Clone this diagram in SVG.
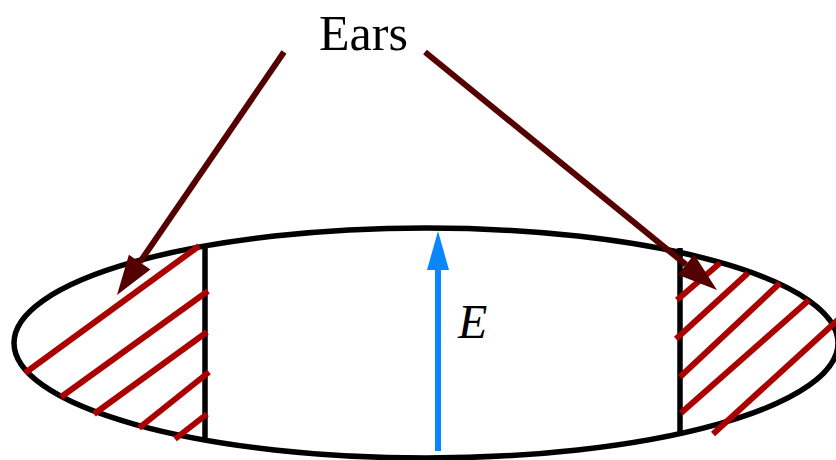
<svg xmlns="http://www.w3.org/2000/svg" width="836" height="460" viewBox="0 0 836 460">
<style>
.outline{fill:none;stroke:#000;stroke-width:5.5}
.hatch{stroke:#aa0000;stroke-width:6;fill:none}
.lead{stroke:#550000;stroke-width:6;fill:none}
.leadhead{fill:#550000}
.label{font-family:"Liberation Serif","Times New Roman",serif;fill:#000}
</style>
<rect width="836" height="460" fill="#fff"/>
<g id="body">
<ellipse class="outline" cx="426" cy="343" rx="412" ry="115"/>
</g>
<g id="left-ear">
<line class="outline" x1="205" y1="246" x2="205" y2="439"/>
<line class="hatch" x1="25" y1="373" x2="199" y2="246"/>
<line class="hatch" x1="61" y1="397" x2="208" y2="291"/>
<line class="hatch" x1="94" y1="414" x2="207" y2="332"/>
<line class="hatch" x1="139" y1="428" x2="209" y2="372"/>
<line class="hatch" x1="175" y1="439" x2="207" y2="414"/>
</g>
<g id="right-ear">
<line class="outline" x1="680" y1="248" x2="680" y2="436"/>
<line class="hatch" x1="677" y1="300" x2="720" y2="263"/>
<line class="hatch" x1="676" y1="339" x2="748" y2="273"/>
<line class="hatch" x1="680" y1="377" x2="780" y2="283"/>
<line class="hatch" x1="681" y1="413" x2="809" y2="300"/>
<line class="hatch" x1="713" y1="434" x2="840" y2="318"/>
</g>
<g id="field">
<line stroke="#0a86ff" stroke-width="6" x1="438" y1="451" x2="438" y2="266"/>
<polygon fill="#0a86ff" points="438,231 427,270 449,270"/>
<text class="label" x="458" y="338" font-size="48" font-style="italic">E</text>
</g>
<g id="ears-label">
<text class="label" x="319" y="50" font-size="50">Ears</text>
</g>
<g id="connectors">
<line class="lead" x1="284" y1="52" x2="140" y2="262"/>
<polygon class="leadhead" points="117,295 150.4,269.4 128.9,254.7"/>
<line class="lead" x1="425" y1="52" x2="686" y2="264.7"/>
<polygon class="leadhead" points="717,290 677.8,274.8 694.2,254.6"/>
</g>
</svg>
